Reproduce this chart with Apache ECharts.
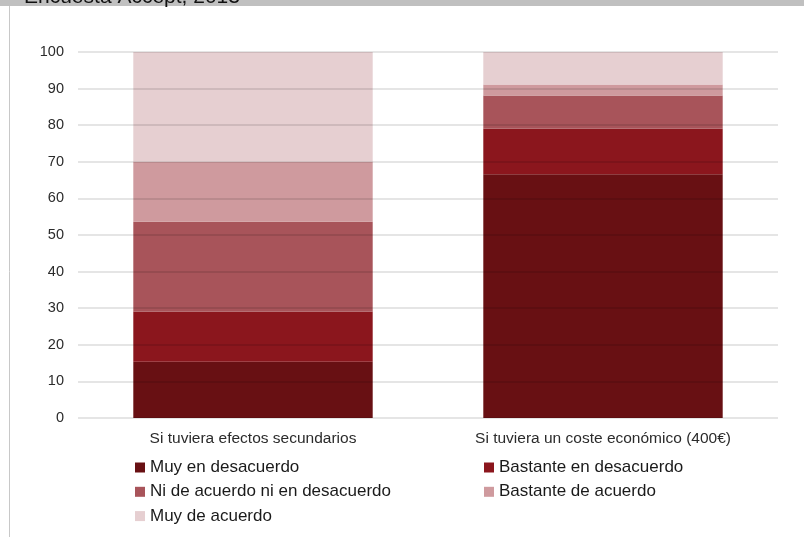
<!DOCTYPE html>
<html>
<head>
<meta charset="utf-8">
<script src="https://cdn.jsdelivr.net/npm/echarts@6/dist/echarts.min.js"></script>
<style>
  html, body { margin: 0; padding: 0; background: #fff; }
  #main { width: 804px; height: 537px; }
</style>
</head>
<body>
<div id="main"></div>
<script>
var chartDom = document.getElementById('main');
var myChart = echarts.init(chartDom);
var option;

// data (percent)
const categories = ['Si tuviera efectos secundarios', 'Si tuviera un coste económico (400€)'];
const muyDesacuerdo = [15.4, 66.6];
const bastanteDesacuerdo = [13.7, 12.4];
const niNi = [24.5, 9.1];
const bastanteAcuerdo = [16.4, 3.0];
const muyAcuerdo = [30.0, 8.9];
const yTicks = [0, 10, 20, 30, 40, 50, 60, 70, 80, 90, 100];

const seriesNames = [
    'Muy en desacuerdo',
    'Bastante en desacuerdo',
    'Ni de acuerdo ni en desacuerdo',
    'Bastante de acuerdo',
    'Muy de acuerdo'
];
const seriesData = [muyDesacuerdo, bastanteDesacuerdo, niNi, bastanteAcuerdo, muyAcuerdo];
const colors = ['#681013', '#8b161d', '#a8545a', '#cf9a9e', '#e6cfd1'];

const fontFam = '"Liberation Sans", Arial, sans-serif';

const legendText = {
    color: '#1a1a1a',
    fontSize: 17,
    fontFamily: fontFam,
    lineHeight: 17
};

option = {
    animation: false,
    color: colors,
    textStyle: { fontFamily: fontFam },
    graphic: [
        {
            type: 'rect',
            left: 0,
            top: 0,
            shape: { width: 804, height: 6 },
            style: { fill: '#c0c0c0' },
            z: 10
        },
        {
            type: 'text',
            x: 24,
            y: -3,
            style: {
                text: 'Encuesta Accept, 2013',
                font: '21px "Liberation Sans", Arial, sans-serif',
                fill: '#111',
                verticalAlign: 'middle'
            },
            z: 11
        },
        {
            type: 'line',
            shape: { x1: 9.5, y1: 6, x2: 9.5, y2: 537 },
            style: { stroke: '#c8c8c8', lineWidth: 1 },
            z: 10
        }
    ],
    grid: {
        left: 78,
        right: 26,
        top: 52,
        bottom: 119
    },
    legend: [
        {
            orient: 'vertical',
            left: 130,
            top: 454,
            itemWidth: 10,
            itemHeight: 10,
            itemGap: 7.3,
            icon: 'rect',
            textStyle: legendText,
            data: [seriesNames[0], seriesNames[2], seriesNames[4]]
        },
        {
            orient: 'vertical',
            left: 479,
            top: 454,
            itemWidth: 10,
            itemHeight: 10,
            itemGap: 7.3,
            icon: 'rect',
            textStyle: legendText,
            data: [seriesNames[1], seriesNames[3]]
        }
    ],
    xAxis: {
        type: 'category',
        data: categories,
        axisLine: { show: false },
        axisTick: { show: false },
        axisLabel: {
            color: '#2b2b2b',
            fontSize: 15.5,
            fontFamily: fontFam,
            margin: 13
        }
    },
    yAxis: {
        type: 'value',
        min: yTicks[0],
        max: yTicks[yTicks.length - 1],
        interval: 10,
        z: 3,
        axisLine: { show: false },
        axisTick: { show: false },
        axisLabel: {
            color: '#2b2b2b',
            fontSize: 14.5,
            fontFamily: fontFam,
            margin: 14
        },
        splitLine: {
            lineStyle: { color: 'rgba(0,0,0,0.1)', width: 2 }
        }
    },
    series: seriesNames.map(function (name, i) {
        return {
            name: name,
            type: 'bar',
            stack: 'total',
            barWidth: '68.4%',
            itemStyle: { color: colors[i] },
            data: seriesData[i]
        };
    })
};

option && myChart.setOption(option);
</script>
</body>
</html>
